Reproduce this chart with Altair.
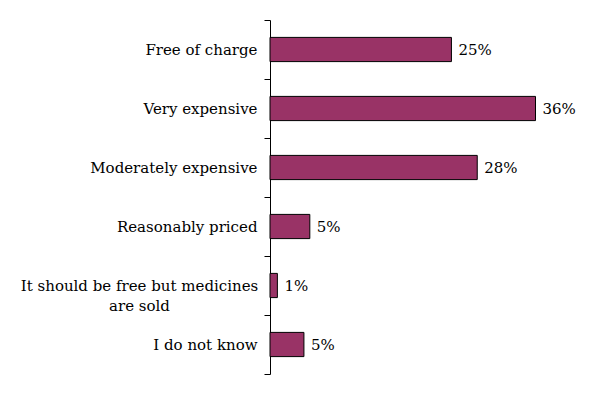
import altair as alt
import pandas as pd

categories = [
    "Free of charge",
    "Very expensive",
    "Moderately expensive",
    "Reasonably priced",
    "It should be free but medicines are sold",
    "I do not know",
]
values = [24.6, 36.0, 28.1, 5.4, 1.0, 4.6]
value_labels = ["25%", "36%", "28%", "5%", "1%", "5%"]

df = pd.DataFrame({"category": categories, "value": values, "label": value_labels})

LONG = "It should be free but medicines are sold"
FONT = "DejaVu Serif"
FS = 15

y_enc = alt.Y(
    "category:N",
    sort=categories,
    title=None,
    scale=alt.Scale(paddingInner=0, paddingOuter=0),
    axis=alt.Axis(
        domainColor="black",
        domainWidth=1,
        tickColor="black",
        tickWidth=1,
        tickSize=6,
        tickBand="extent",
        labelFont=FONT,
        labelFontSize=FS,
        labelColor="black",
        labelLimit=0,
        labelLineHeight=20,
        labelAlign={"condition": {"test": f"datum.value == '{LONG}'", "value": "center"}, "value": "right"},
        labelPadding={"condition": {"test": f"datum.value == '{LONG}'", "value": 125}, "value": 7},
        labelExpr=f"datum.label == '{LONG}' ? ['It should be free but medicines', 'are sold'] : datum.label",
    ),
)

x_enc = alt.X("value:Q", axis=None, scale=alt.Scale(domain=[0, 40], nice=False, zero=True))

bars = alt.Chart(df).mark_bar(
    color="#993366", stroke="black", strokeWidth=1, height={"band": 0.41}
).encode(x=x_enc, y=y_enc)

texts = alt.Chart(df).mark_text(
    align="left", baseline="middle", dx=7, font=FONT, fontSize=FS, color="black"
).encode(x=x_enc, y=alt.Y("category:N", sort=categories), text="label:N")

chart = (
    alt.layer(bars, texts)
    .properties(
        width=295,
        height=354,
        autosize=alt.AutoSizeParams(type="none"),
        padding={"left": 262, "top": 12, "right": 27, "bottom": 12},
        background="white",
    )
    .configure_view(stroke=None)
)

chart.save("out.html", embed_options={"renderer": "svg", "actions": False})
